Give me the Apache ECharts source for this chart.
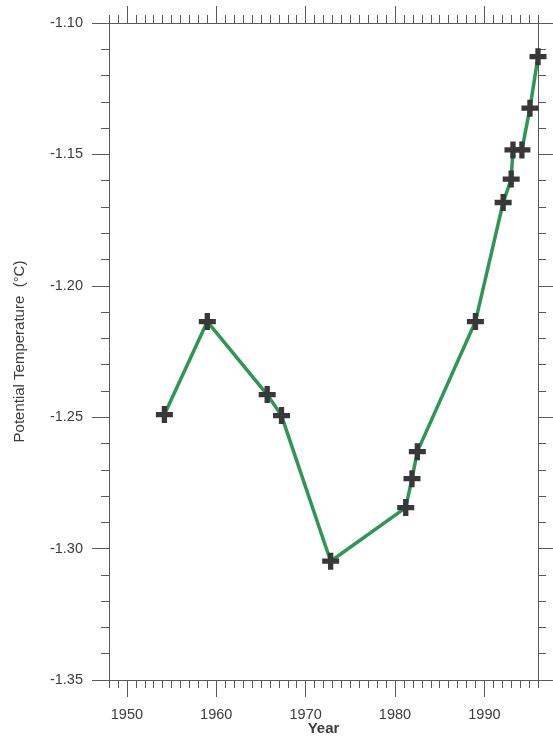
<!DOCTYPE html>
<html>
<head>
<meta charset="utf-8">
<script src="https://cdn.jsdelivr.net/npm/echarts@6/dist/echarts.min.js"></script>
<style>
  html, body { margin: 0; height: 100%; background: #fff; }
  #chart { width: 553px; height: 737px; }
</style>
</head>
<body>
<div id="chart"></div>
<script>
  // measured points (year, potential temperature)
  const years = [1954.2, 1959.0, 1965.7, 1967.3, 1972.8, 1981.2, 1981.9, 1982.5,
    1989.0, 1992.1, 1993.0, 1993.2, 1994.2, 1995.1, 1996.0];
  const temps = [-1.249, -1.2136, -1.2414, -1.2494, -1.3048, -1.2844, -1.2734, -1.2631,
    -1.2136, -1.1683, -1.1594, -1.1483, -1.1483, -1.1324, -1.1128];
  const yearLabels = [1950, 1960, 1970, 1980, 1990];

  const axisColor = '#5a5a5a';
  const textColor = '#3c3c3c';
  const font = 'Liberation Sans, Arial, sans-serif';
  const plus = 'path://M5.5,0H10.5V5.5H16V10.5H10.5V16H5.5V10.5H0V5.5H5.5Z';

  const chart = echarts.init(document.getElementById('chart'), null, {renderer: 'canvas'});

  const majorX = (pos, withLabel) => ({
    type: 'value', position: pos, min: 1948, max: 1996,
    axisLine: {show: true, onZero: false, lineStyle: {color: axisColor, width: 1}},
    axisTick: {show: true, customValues: yearLabels, length: 17, lineStyle: {color: axisColor}},
    axisLabel: withLabel ? {
      show: true, customValues: yearLabels, margin: 27,
      color: textColor, fontSize: 14.5, fontFamily: font,
      formatter: v => String(v)
    } : {show: false},
    splitLine: {show: false}
  });
  const minorX = (pos) => ({
    type: 'value', position: pos, min: 1948, max: 1996, interval: 1,
    axisLine: {show: false, onZero: false},
    axisTick: {show: true, length: 8, lineStyle: {color: axisColor}},
    axisLabel: {show: false},
    splitLine: {show: false}
  });
  const yAx = (pos, withLabel) => ({
    type: 'value', position: pos, min: -1.35, max: -1.10, interval: 0.05,
    axisLine: {show: true, onZero: false, lineStyle: {color: axisColor, width: 1}},
    axisTick: {show: true, length: pos === 'left' ? 17 : 16, lineStyle: {color: axisColor}},
    minorTick: {show: true, splitNumber: 5, length: 8, lineStyle: {color: axisColor}},
    axisLabel: withLabel ? {
      show: true, margin: 26, color: textColor, fontSize: 14.5, fontFamily: font,
      formatter: v => v.toFixed(2)
    } : {show: false},
    splitLine: {show: false},
    minorSplitLine: {show: false}
  });

  const xMain = majorX('bottom', true);
  xMain.name = 'Year';
  xMain.nameLocation = 'middle';
  xMain.nameGap = 41;
  xMain.nameMoveOverlap = false;
  xMain.nameTextStyle = {color: textColor, fontSize: 15, fontWeight: 'bold', fontFamily: font};

  const yMain = yAx('left', true);
  yMain.name = 'Potential Temperature  (°C)';
  yMain.nameLocation = 'middle';
  yMain.nameGap = 82;
  yMain.nameMoveOverlap = false;
  yMain.nameTextStyle = {color: textColor, fontSize: 15, fontFamily: font};

  const option = {
    backgroundColor: '#fff',
    animation: false,
    grid: {left: 109, top: 23, right: 15, bottom: 57, outerBoundsMode: 'none', containLabel: false},
    xAxis: [xMain, minorX('bottom'), majorX('top', false), minorX('top')],
    yAxis: [yMain, yAx('right', false)],
    series: [{
      type: 'line',
      xAxisIndex: 0,
      yAxisIndex: 0,
      data: years.map((y, i) => [y, temps[i]]),
      clip: false,
      symbol: plus,
      symbolSize: 17,
      showAllSymbol: true,
      lineStyle: {color: '#2f9655', width: 3.5},
      itemStyle: {color: '#383838'}
    }]
  };
  chart.setOption(option);
</script>
</body>
</html>
